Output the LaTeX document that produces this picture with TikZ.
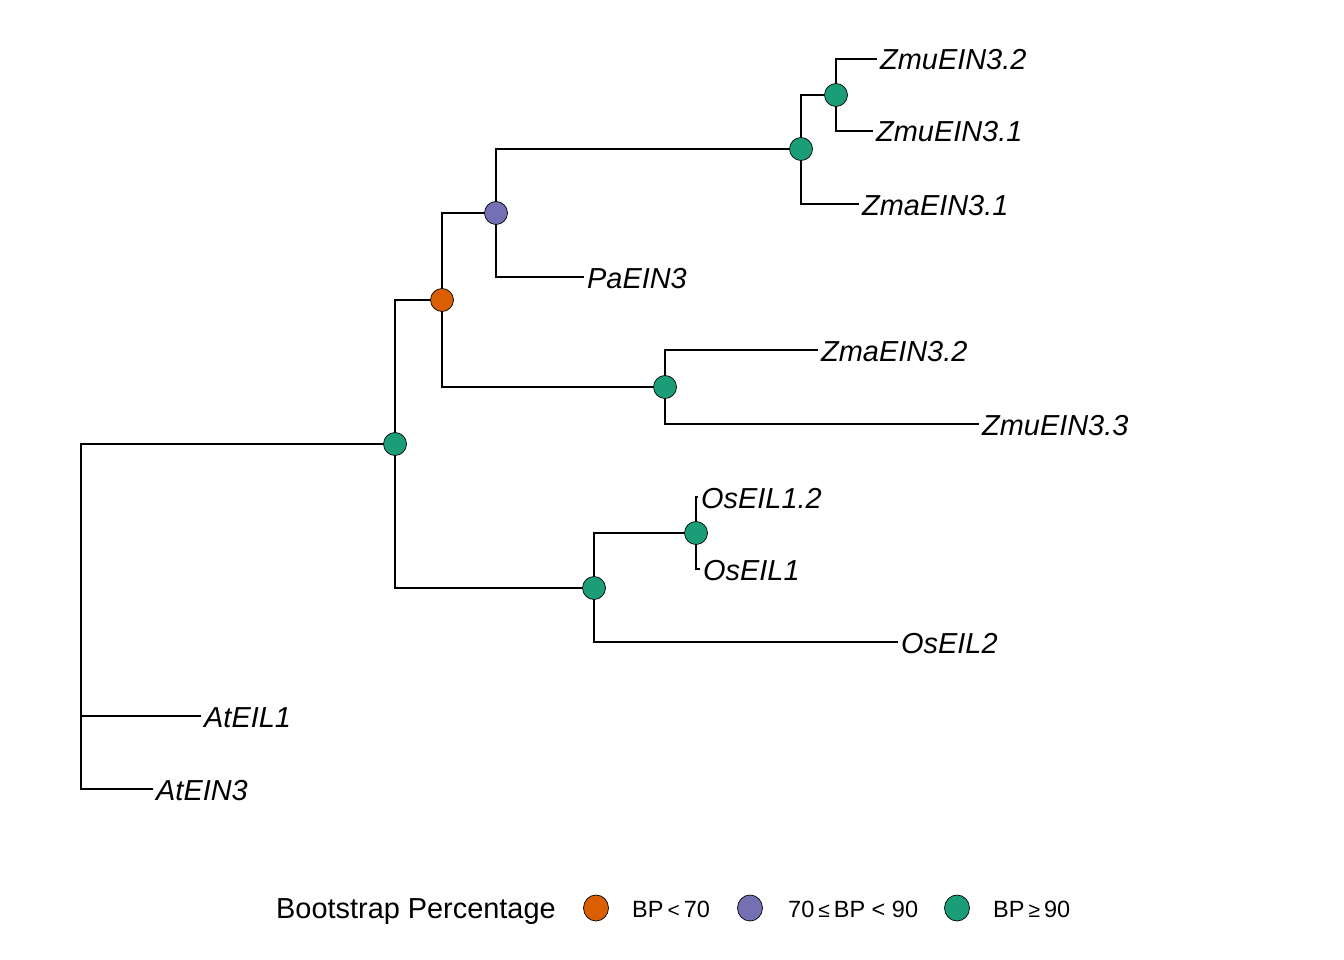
\documentclass[tikz,border=0pt]{standalone}
\usepackage{fontspec}
\usetikzlibrary{shapes.geometric}
\setmainfont{Liberation Sans}
\definecolor{bporange}{HTML}{D95F02}
\definecolor{bppurple}{HTML}{7570B3}
\definecolor{bpgreen}{HTML}{1B9E77}
\newcommand{\smallrel}[1]{\hspace{4pt}{\fontsize{21}{22}\selectfont #1}\hspace{4pt}}
\begin{document}
\begin{tikzpicture}[x=1pt,y=-1pt,
  branch/.style={line width=2pt,line join=miter,line cap=rect},
  dot/.style={circle,draw=black,line width=0.7pt,minimum size=23pt,inner sep=0pt},
  lab/.style={anchor=base west,inner sep=0pt,
    font=\fontsize{28.9}{32}\selectfont\itshape,xshift=4pt,yshift=-11pt},
  legtitle/.style={anchor=base west,inner sep=0pt,
    font=\fontsize{28.9}{32}\selectfont},
  legitem/.style={anchor=base west,inner sep=0pt,
    font=\fontsize{23.5}{26}\selectfont},
  legdot/.style={ellipse,draw=black,line width=0.7pt,minimum width=25pt,minimum height=26pt,inner sep=0pt}]
\useasboundingbox (0,0) rectangle (1344,960);
% internal nodes
\coordinate (r) at (81,444);
\coordinate (n1) at (395,444);
\coordinate (n2) at (442,300);
\coordinate (n3) at (496,213);
\coordinate (n4) at (801,149);
\coordinate (n5) at (836,95);
\coordinate (n6) at (665,387);
\coordinate (n7) at (594,588);
\coordinate (n8) at (696,533);
% leaf ends
\coordinate (zmu32) at (876,59);
\coordinate (zmu31) at (872,131);
\coordinate (zma31) at (858,204);
\coordinate (pa) at (583,277);
\coordinate (zma32) at (817,350);
\coordinate (zmu33) at (978,424);
\coordinate (os12) at (697,497);
\coordinate (os1) at (699,569);
\coordinate (os2) at (897,642);
\coordinate (atl1) at (200,716);
\coordinate (ate3) at (152,789);
% branches
\draw[branch] (n1) -- (r) |- (ate3);
\draw[branch] (r |- atl1) -- (atl1);
\draw[branch] (n2) -| (n1) |- (n7);
\draw[branch] (n3) -| (n2) |- (n6);
\draw[branch] (n4) -| (n3) |- (pa);
\draw[branch] (n5) -| (n4) |- (zma31);
\draw[branch] (zmu32) -| (n5) |- (zmu31);
\draw[branch] (zma32) -| (n6) |- (zmu33);
\draw[branch] (n8) -| (n7) |- (os2);
\draw[branch] (os12) -| (n8) |- (os1);
% bootstrap dots
\node[dot,fill=bpgreen] (d1) at (n1) {};
\node[dot,fill=bporange] (d2) at (n2) {};
\node[dot,fill=bppurple] (d3) at (n3) {};
\node[dot,fill=bpgreen] (d4) at (n4) {};
\node[dot,fill=bpgreen] (d5) at (n5) {};
\node[dot,fill=bpgreen] (d6) at (n6) {};
\node[dot,fill=bpgreen] (d7) at (n7) {};
\node[dot,fill=bpgreen] (d8) at (n8) {};
% labels
\node[lab] (lzmu32) at (zmu32) {ZmuEIN3.2};
\node[lab] (lzmu31) at (zmu31) {ZmuEIN3.1};
\node[lab] (lzma31) at (zma31) {ZmaEIN3.1};
\node[lab] (lpa) at (pa) {PaEIN3};
\node[lab] (lzma32) at (zma32) {ZmaEIN3.2};
\node[lab] (lzmu33) at (zmu33) {ZmuEIN3.3};
\node[lab] (los12) at (os12) {OsEIL1.2};
\node[lab] (los1) at (os1) {OsEIL1};
\node[lab] (los2) at (os2) {OsEIL2};
\node[lab] (latl1) at (atl1) {AtEIL1};
\node[lab] (late3) at (ate3) {AtEIN3};
% legend
\node[legtitle] (lt) at (276,918) {Bootstrap Percentage};
\node[legdot,fill=bporange] (ld1) at (596,908) {};
\node[legitem] (li1) at (632,917) {BP\smallrel{<}70};
\node[legdot,fill=bppurple] (ld2) at (750,908) {};
\node[legitem] (li2) at (788,917) {70\smallrel{≤}BP < 90};
\node[legdot,fill=bpgreen] (ld3) at (957,908) {};
\node[legitem] (li3) at (993,917) {BP\smallrel{≥}90};
\end{tikzpicture}
\end{document}
